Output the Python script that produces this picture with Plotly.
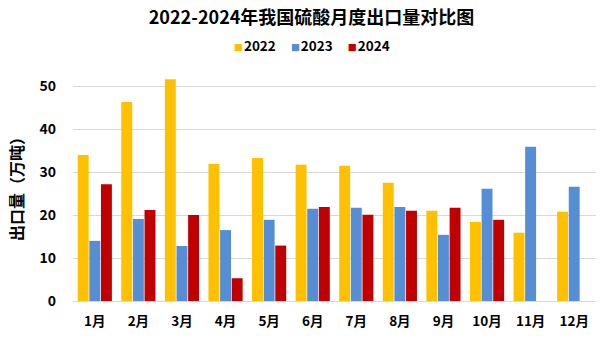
import plotly.graph_objects as go

months = ["1月", "2月", "3月", "4月", "5月", "6月", "7月", "8月", "9月", "10月", "11月", "12月"]
v2022 = [34.0, 46.3, 51.6, 31.9, 33.3, 31.7, 31.5, 27.5, 21.0, 18.4, 15.9, 20.8]
v2023 = [14.0, 19.1, 12.8, 16.5, 18.9, 21.5, 21.7, 21.9, 15.4, 26.1, 35.9, 26.6]
v2024 = [27.2, 21.2, 20.0, 5.3, 12.9, 21.9, 20.1, 21.0, 21.7, 18.9, None, None]
series_names = ["2022", "2023", "2024"]
colors = ["#FFC000", "#558ED5", "#C00000"]

FONT = "Noto Sans CJK SC"

fig = go.Figure()
for name, vals, c in zip(series_names, [v2022, v2023, v2024], colors):
    fig.add_trace(go.Bar(x=months, y=vals, name=name, showlegend=False,
                         marker=dict(color=c, line=dict(width=0))))

fig.update_layout(
    width=605, height=339,
    margin=dict(l=73, r=9, t=69, b=38),
    paper_bgcolor="white", plot_bgcolor="white",
    barmode="group", bargap=0.2, bargroupgap=0.06,
    font=dict(family=FONT, color="black", size=12),
    title=dict(text="<b>2022-2024年我国硫酸月度出口量对比图</b>", x=0.515, xref="container",
               xanchor="center", y=1 - 18 / 339, yref="container", yanchor="middle",
               font=dict(family=FONT, size=18, color="black")),
    showlegend=False,
)

# custom compact legend (square markers close to the text, like the reference)
legend_parts = []
for name, c in zip(series_names, colors):
    legend_parts.append(f"<span style='color:{c};font-size:9px'>■</span>"
                        f"<span style='font-size:4px'>&nbsp;</span><b>{name}</b>")
legend_text = "&nbsp;&nbsp;&nbsp;&nbsp;&nbsp;".join(legend_parts)
fig.add_annotation(text=legend_text, xref="paper", yref="paper",
                   x=(312 - 73) / 523, y=1 + (69 - 45) / 232, xanchor="center", yanchor="middle",
                   showarrow=False, font=dict(family=FONT, size=13.5, color="black"))

fig.update_xaxes(showgrid=False, showline=True, linecolor="#D9D9D9", linewidth=1,
                 ticks="", tickfont=dict(family=FONT, size=13.5, color="black"),
                 ticklabelstandoff=8, tickprefix="<b>", ticksuffix="</b>")
fig.update_yaxes(range=[0, 54], dtick=10, tick0=0, showgrid=True, gridcolor="#D9D9D9", gridwidth=1,
                 zeroline=False, showline=False, ticks="",
                 tickfont=dict(family=FONT, size=14, color="black"),
                 ticklabelstandoff=16, tickprefix="<b>", ticksuffix="</b>")

fig.add_annotation(text="<b>出口量（万吨）</b>", textangle=-90, xref="paper", yref="paper",
                   x=(16 - 73) / 523, y=0.5, xanchor="center", yanchor="middle", showarrow=False,
                   font=dict(family=FONT, size=16, color="black"))

fig.write_html("out.html")
